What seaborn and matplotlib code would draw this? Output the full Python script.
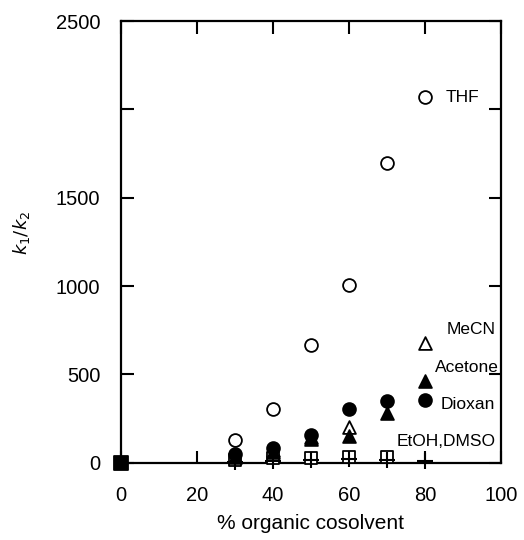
import numpy as np
import pandas as pd
import matplotlib
matplotlib.use("Agg")
import matplotlib.pyplot as plt
import seaborn as sns

# --- data (k1/k2 vs % organic cosolvent) ---
thf_x = [30, 40, 50, 60, 70, 80]
thf_y = [130, 305, 667, 1007, 1697, 2070]

mecn_x = [30, 40, 50, 60, 80]
mecn_y = [40, 70, 145, 204, 679]

acetone_x = [30, 40, 50, 60, 70, 80]
acetone_y = [35, 60, 136, 153, 283, 464]

dioxan_x = [30, 40, 50, 60, 70, 80]
dioxan_y = [50, 85, 158, 305, 351, 356]

etoh_x = [30, 40, 50, 60, 70]
etoh_y = [15, 25, 28, 30, 30]

dmso_x = [30, 40, 50, 60, 70, 80]
dmso_y = [5, 10, 15, 20, 15, 10]

water_x = [0]
water_y = [0]

x_ticks = [0, 20, 40, 60, 80, 100]
y_ticks = [0, 500, 1000, 1500, 2000, 2500]
y_tick_labels = ["0", "500", "1000", "1500", "", "2500"]

# (name, x, y, marker, face, size)
SERIES = [
    ("THF", thf_x, thf_y, "o", "white", 85),
    ("MeCN", mecn_x, mecn_y, "^", "white", 85),
    ("EtOH", etoh_x, etoh_y, "s", "white", 75),
    ("Acetone", acetone_x, acetone_y, "^", "black", 85),
    ("Dioxan", dioxan_x, dioxan_y, "o", "black", 85),
    ("water", water_x, water_y, "s", "black", 110),
]

sns.set_style("ticks")
plt.rcParams["font.family"] = ["Liberation Sans", "DejaVu Sans"]
plt.rcParams["mathtext.fontset"] = "dejavusans"
plt.rcParams["text.color"] = "black"
plt.rcParams["axes.labelcolor"] = "black"

fig = plt.figure(figsize=(5.24, 5.4), dpi=100)
ax = fig.add_axes([0.231, 0.143, 0.725, 0.818])

for name, xs, ys, mk, face, s in SERIES:
    df = pd.DataFrame({"x": xs, "y": ys})
    sns.scatterplot(data=df, x="x", y="y", marker=mk, s=s, facecolor=face,
                    edgecolor="black", linewidth=1.3, ax=ax, clip_on=False, zorder=3)

df_dmso = pd.DataFrame({"x": dmso_x, "y": dmso_y})
sns.scatterplot(data=df_dmso, x="x", y="y", marker="+", s=120, color="black",
                linewidth=1.5, ax=ax, clip_on=False, zorder=4)

ax.set_xlim(0, 100)
ax.set_ylim(0, 2500)
ax.set_xticks(x_ticks)
ax.set_yticks(y_ticks)
ax.set_yticklabels(y_tick_labels)
ax.tick_params(direction="in", length=9, width=1.5, top=True, right=True,
               labelsize=14.5, colors="black")
ax.tick_params(axis="y", pad=15)
ax.tick_params(axis="x", pad=17)
for sp in ax.spines.values():
    sp.set_linewidth(1.6)
    sp.set_color("black")

ax.set_xlabel("% organic cosolvent", fontsize=15, labelpad=6, color="black")
ax.set_ylabel(r"$k_1/k_2$", fontsize=13, labelpad=16, color="black")
ax.yaxis.set_label_coords(-0.235, 0.52)

# series labels
lab = dict(fontsize=12.5, va="center", color="black")
ax.text(85.5, 2070, "THF", ha="left", **lab)
ax.text(98.5, 752, "MeCN", ha="right", **lab)
ax.text(99.5, 537, "Acetone", ha="right", **lab)
ax.text(98.5, 328, "Dioxan", ha="right", **lab)
ax.text(98.5, 119, "EtOH,DMSO", ha="right", **lab)

fig.savefig("out.png", dpi=100)
